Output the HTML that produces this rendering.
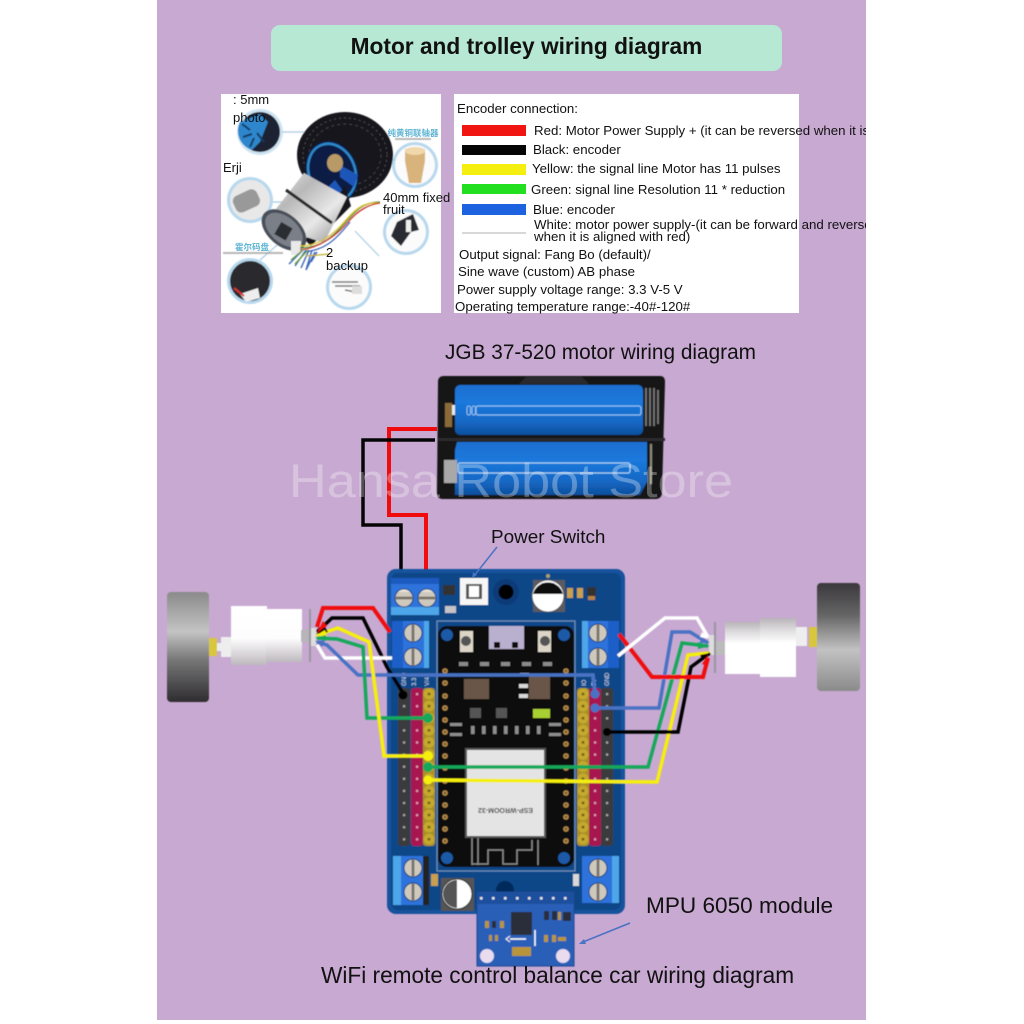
<!DOCTYPE html>
<html><head><meta charset="utf-8"><style>
html,body{margin:0;padding:0;background:#fff;width:1024px;height:1024px;overflow:hidden}
svg{display:block}
text{font-family:"Liberation Sans","Noto Sans CJK SC",sans-serif;fill:#111}
</style></head><body>
<svg width="1024" height="1024" viewBox="0 0 1024 1024" xmlns="http://www.w3.org/2000/svg">
<defs>
<filter id="soft" x="-2%" y="-2%" width="104%" height="104%"><feGaussianBlur stdDeviation="0.45"/></filter>
<linearGradient id="wL" x1="0" y1="0" x2="0" y2="1"><stop offset="0" stop-color="#8a8a8a"/><stop offset=".36" stop-color="#c4c4c4"/><stop offset=".62" stop-color="#777"/><stop offset="1" stop-color="#2e2c30"/></linearGradient>
<linearGradient id="wR" x1="0" y1="0" x2="0" y2="1"><stop offset="0" stop-color="#3a383c"/><stop offset=".3" stop-color="#666"/><stop offset=".62" stop-color="#c2c2c2"/><stop offset="1" stop-color="#8a8a8a"/></linearGradient>
<linearGradient id="mL" x1="0" y1="0" x2="0" y2="1"><stop offset="0" stop-color="#fff"/><stop offset=".55" stop-color="#fdfdfd"/><stop offset=".82" stop-color="#d8d4d8"/><stop offset="1" stop-color="#bdb9be"/></linearGradient>
<linearGradient id="mR" x1="0" y1="0" x2="0" y2="1"><stop offset="0" stop-color="#b8b4b9"/><stop offset=".2" stop-color="#dedcde"/><stop offset=".42" stop-color="#fff"/><stop offset="1" stop-color="#fff"/></linearGradient>
<linearGradient id="bat" x1="0" y1="0" x2="0" y2="1"><stop offset="0" stop-color="#1f6fd0"/><stop offset=".35" stop-color="#1a79dc"/><stop offset=".75" stop-color="#1467c4"/><stop offset="1" stop-color="#0f4f9c"/></linearGradient>
<linearGradient id="cyl" x1="0" y1="0" x2="1" y2="1"><stop offset="0" stop-color="#f0f0f0"/><stop offset=".35" stop-color="#b8b8b8"/><stop offset=".65" stop-color="#e8e8e8"/><stop offset="1" stop-color="#888"/></linearGradient>
<pattern id="pY" width="12" height="12.1" patternUnits="userSpaceOnUse" x="423" y="688"><rect width="12" height="12.1" fill="#a89028"/><circle cx="6" cy="6" r="5.4" fill="#c4a92e"/><rect x="4.7" y="4.8" width="2.6" height="2.4" fill="#6d5c18"/></pattern>
<pattern id="pYR" width="12" height="12.1" patternUnits="userSpaceOnUse" x="577" y="688"><rect width="12" height="12.1" fill="#a89028"/><circle cx="6" cy="6" r="5.4" fill="#c4a92e"/><rect x="4.7" y="4.8" width="2.6" height="2.4" fill="#6d5c18"/></pattern>
<pattern id="pR" width="12" height="12.1" patternUnits="userSpaceOnUse" x="411" y="688"><rect width="12" height="12.1" fill="#a8134f"/><rect x="5" y="5" width="2.2" height="2.2" fill="#d8a0b8"/></pattern>
<pattern id="pRR" width="12" height="12.1" patternUnits="userSpaceOnUse" x="589" y="688"><rect width="12" height="12.1" fill="#a8134f"/><rect x="5" y="5" width="2.2" height="2.2" fill="#d8a0b8"/></pattern>
<pattern id="pK" width="12" height="12.1" patternUnits="userSpaceOnUse" x="398" y="688"><rect width="12" height="12.1" fill="#3a3a3c"/><rect x="5" y="5" width="2.2" height="2.2" fill="#aaa"/></pattern>
<pattern id="pKR" width="12" height="12.1" patternUnits="userSpaceOnUse" x="601" y="688"><rect width="12" height="12.1" fill="#3a3a3c"/><rect x="5" y="5" width="2.2" height="2.2" fill="#aaa"/></pattern>
<g id="screw"><circle r="9.5" fill="#1c3f78"/><circle r="8.5" fill="#cfc9bd"/><rect x="-8.3" y="-1.4" width="16.6" height="2.8" fill="#77736a"/><path d="M-6-6A8.5 8.5 0 0 1 6-6" fill="#e6e2d8"/></g>
<g id="vscrew"><circle r="9.5" fill="#1c3f78"/><circle r="8.5" fill="#cfc9bd"/><rect x="-1.4" y="-8.3" width="2.8" height="16.6" fill="#77736a"/></g>
<g id="pad"><circle r="2.8" fill="#b58a4a"/><circle r="1.1" fill="#5a4020"/></g>
</defs>

<rect width="1024" height="1024" fill="#fff"/>
<rect x="157" y="0" width="709" height="1020" fill="#c8a9d2"/>

<!-- Title -->
<rect x="271" y="25" width="511" height="46" rx="9" fill="#b6e8d3"/>
<text x="526.500" y="54" font-size="22.700" font-weight="700" text-anchor="middle">Motor and trolley wiring diagram</text>

<!-- Left photo -->
<rect x="221" y="94" width="220" height="219" fill="#fff"/>
<g filter="url(#soft)">
 <circle cx="260" cy="132" r="23" fill="#cfe4f2"/><circle cx="260" cy="132" r="20" fill="#1c2430"/><path d="M240 122a20 20 0 0 0 12 28l8-8 8-20-8-8z" fill="#2d86cc"/><path d="M250 130l-8-6M252 134l-9 3M254 138l-4 9M257 133l7 9" stroke="#123a60" stroke-width="2"/>
 <circle cx="250" cy="200" r="23" fill="#b7d8ee"/><circle cx="250" cy="200" r="20" fill="#e8e8e8"/><rect x="233" y="192" width="26" height="18" rx="6" fill="#999" transform="rotate(-25 246 200)"/>
 <circle cx="415" cy="165" r="23" fill="#b7d8ee"/><circle cx="415" cy="165" r="20" fill="#fbfbfb"/><path d="M405 149h20v12l-4 22h-12l-4-22z" fill="#d9b37c"/><ellipse cx="415" cy="151" rx="10" ry="4" fill="#f1d7ac"/>
 <circle cx="406" cy="232" r="23" fill="#b7d8ee"/><circle cx="406" cy="232" r="20" fill="#fbfbfb"/><path d="M397 222l16-8 6 16-8 2-10 14-10-10z" fill="#2c2c30"/><rect x="406" y="220" width="5" height="12" fill="#eee"/>
 <circle cx="250" cy="281" r="23" fill="#b7d8ee"/><circle cx="250" cy="281" r="20" fill="#2a2a2e"/><path d="M240 294l18-6 2 10-14 4z" fill="#eee"/><path d="M234 288l10 8" stroke="#d33" stroke-width="2"/>
 <circle cx="349" cy="287" r="23" fill="#b7d8ee"/><circle cx="349" cy="287" r="20" fill="#fbfbfb"/><path d="M332 282h26M335 286h25M345 290l16 3" stroke="#777" stroke-width="1.600"/><rect x="352" y="286" width="10" height="8" fill="#ddd"/>
 <path d="M282 132H305M273 202H310M355 231l24 25M340 160H395M260 260l32-28" stroke="#a9cbe2" stroke-width="1.200" fill="none"/>
 <!-- tyre -->
 <ellipse cx="345" cy="155" rx="48" ry="43" fill="#17181c"/>
 <ellipse cx="345" cy="155" rx="42" ry="37" fill="none" stroke="#4a4a4e" stroke-width="1" stroke-dasharray="2 3"/>
 <ellipse cx="345" cy="155" rx="36" ry="31" fill="none" stroke="#3f3f44" stroke-width="1" stroke-dasharray="3 3"/>
 <ellipse cx="332" cy="172" rx="26" ry="32" fill="#0c1f44" transform="rotate(-22 332 172)"/>
 <ellipse cx="332" cy="172" rx="23" ry="29" fill="none" stroke="#2f86c9" stroke-width="2.500" transform="rotate(-22 332 172)"/>
 <path d="M340 165l18 10-4 12-14-10zM335 180l10 14-10 4-6-12z" fill="#1d57b8"/>
 <ellipse cx="335" cy="163" rx="8" ry="9" fill="#b79a66"/>
 <!-- bracket -->
 <path d="M345 186l6 20-40 40-6-6z" fill="#18181a"/>
 <!-- motor body -->
 <path d="M304 173L347 197 324 243 265 223Z" fill="url(#cyl)"/>
 <path d="M286 190l46 33" stroke="#2a2a2a" stroke-width="3" fill="none"/>
 <ellipse cx="284" cy="230" rx="26" ry="16" fill="#4a4f58" transform="rotate(40 284 230)"/>
 <ellipse cx="284" cy="230" rx="22" ry="13" fill="#7a7f88" transform="rotate(40 284 230)"/>
 <rect x="277" y="224" width="13" height="14" fill="#2a2d33" transform="rotate(30 283 231)"/>
 <rect x="291" y="241" width="10" height="14" fill="#e9e9e9"/>
 <!-- wires -->
 <path d="M300 248c20 0 32-10 44-24s20-22 36-22" stroke="#3a8a3e" stroke-width="1.300" fill="none"/>
 <path d="M300 246c20 0 34-12 46-26s20-18 34-17" stroke="#d9c22a" stroke-width="1.300" fill="none"/>
 <path d="M300 250c20-2 38-16 48-28s22-18 32-19" stroke="#c9342c" stroke-width="1.300" fill="none"/>
 <path d="M304 252c20-2 30-10 46-30" stroke="#3c66b8" stroke-width="1.300" fill="none"/>
 <path d="M303 250l-14 14M306 250l-11 16M309 250l-8 18M312 250l-6 20M315 252l-9 18M317 252l-6 10" stroke-width="1.400" fill="none" stroke="#3c66b8"/>
 <path d="M303 250l-12 10M308 250l-13 14" stroke="#6aa03a" stroke-width="1.400"/>
 <path d="M306 256l24-2" stroke="#c5b030" stroke-width="1.300"/>
 <rect x="395" y="138" width="36" height="2" fill="#999" opacity=".7"/>
 <rect x="223" y="252" width="60" height="2" fill="#999" opacity=".7"/>
</g>
<text x="413" y="136" font-size="8.500" font-weight="700" text-anchor="middle" style="fill:#5fb4d4">纯黄铜联轴器</text>
<text x="252" y="250" font-size="8.500" font-weight="700" text-anchor="middle" style="fill:#5fb4d4">霍尔码盘</text>
<g font-size="13">
<text x="233" y="104">: 5mm</text>
<text x="233" y="122">photo</text>
<text x="223" y="172">Erji</text>
<text x="383" y="202">40mm fixed</text>
<text x="383" y="214">fruit</text>
<text x="326" y="257">2</text>
<text x="326" y="270">backup</text>
</g>

<!-- Right text panel -->
<rect x="454" y="94" width="345" height="219" fill="#fff"/>
<rect x="462" y="125" width="64" height="11" fill="#f01510"/>
<rect x="462" y="145" width="64" height="10" fill="#050505"/>
<rect x="462" y="164" width="64" height="11" fill="#f5ef10"/>
<rect x="462" y="184" width="64" height="10" fill="#22e020"/>
<rect x="462" y="204" width="64" height="11" fill="#1d63df"/>
<rect x="462" y="232" width="64" height="2" fill="#d8d8d8"/>
<g font-size="13.270">
<text x="457" y="113">Encoder connection:</text>
<text x="534" y="135">Red: Motor Power Supply + (it can be reversed when it is</text>
<text x="533" y="154">Black: encoder</text>
<text x="532" y="173">Yellow: the signal line Motor has 11 pulses</text>
<text x="531" y="194">Green: signal line Resolution 11 * reduction</text>
<text x="533" y="214">Blue: encoder</text>
<text x="534" y="229">White: motor power supply-(it can be forward and reverse</text>
<text x="534" y="241">when it is aligned with red)</text>
<text x="459" y="259">Output signal: Fang Bo (default)/</text>
<text x="458" y="276">Sine wave (custom) AB phase</text>
<text x="457" y="294">Power supply voltage range: 3.3 V-5 V</text>
<text x="455" y="311">Operating temperature range:-40#-120#</text>
</g>

<text x="600.500" y="359" font-size="20.800" text-anchor="middle">JGB 37-520 motor wiring diagram</text>

<!-- Battery holder -->
<g filter="url(#soft)">
<path d="M444 376H660Q665 376 665 382L662 492Q662 499 655 499H443Q437 499 437 493L438 382Q438 376 444 376Z" fill="#141416"/>
<path d="M526 377h56l7 7h-70z" fill="#2a2a2e"/>
<rect x="455" y="385" width="188" height="50" rx="5" fill="url(#bat)"/>
<path d="M457 442H647V482L640 495H455V450Z" fill="url(#bat)"/>
<rect x="438" y="438" width="227" height="3" fill="#2a2a2e"/>
<rect x="476" y="406" width="165" height="9" rx="2" fill="none" stroke="#8fc0f0" stroke-width="1.200"/>
<g fill="none" stroke="#8fc0f0" stroke-width="1"><rect x="467" y="406" width="3.500" height="9" rx="1.700"/><rect x="472" y="406" width="3.500" height="9" rx="1.700"/></g>
<rect x="458" y="463" width="172" height="10" rx="2" fill="none" stroke="#a8d0f2" stroke-width="1.200"/>
<rect x="445" y="403" width="7" height="24" fill="#8a6a38"/><rect x="452" y="405" width="3" height="10" fill="#e8e8e8"/>
<rect x="444" y="460" width="13" height="23" fill="#a8a8a8"/>
<path d="M646 388v38M650 388v38M654 388v38M658 390v34" stroke="#777" stroke-width="1.800"/>
<rect x="650" y="444" width="2" height="40" fill="#8a8a7a"/>
</g>

<!-- Battery wires -->
<path d="M437 429H389V515H426V578" fill="none" stroke="#f00c0c" stroke-width="4"/>
<path d="M435 440H363V525H401V578" fill="none" stroke="#050505" stroke-width="3.500"/>

<!-- Watermark -->
<text x="289" y="497" font-size="47" textLength="444" lengthAdjust="spacingAndGlyphs" opacity=".3" style="fill:#fff">Hansa Robot Store</text>

<g filter="url(#soft)">
<!-- Left motor -->
<rect x="167" y="592" width="42" height="110" rx="4" fill="url(#wL)"/>
<rect x="209" y="638" width="8" height="18" fill="#d8c63c"/>
<rect x="217" y="643" width="5" height="8" fill="#eee"/>
<rect x="221" y="637" width="11" height="20" fill="#eee"/>
<rect x="231" y="606" width="36" height="59" fill="url(#mL)"/>
<rect x="266" y="609" width="36" height="53" fill="url(#mL)"/>
<rect x="301" y="630" width="9" height="12" fill="#b8b4ba"/>
<rect x="309" y="609" width="2" height="53" fill="#99959c"/>
<rect x="311" y="628" width="5" height="18" fill="#ddd"/>

<!-- Right motor -->
<rect x="817" y="583" width="43" height="108" rx="4" fill="url(#wR)"/>
<rect x="809" y="627" width="8" height="20" fill="#d8c63c"/>
<rect x="796" y="627" width="11" height="19" fill="#eee"/>
<rect x="725" y="622" width="36" height="52" fill="url(#mR)"/>
<rect x="760" y="618" width="36" height="59" fill="url(#mR)"/>
<rect x="716" y="641" width="9" height="14" fill="#bbb"/>
<rect x="714" y="622" width="2" height="51" fill="#99959c"/>
<rect x="709" y="635" width="5" height="20" fill="#ddd"/>

<!-- Board -->
<rect x="387" y="569" width="238" height="345" rx="9" fill="#17529c"/>
<rect x="391" y="573" width="230" height="337" rx="7" fill="#0d4688"/>

<!-- top terminal -->
<rect x="391" y="578" width="48" height="37" fill="#2e72dc"/>
<rect x="391" y="578" width="48" height="6" fill="#1f5ac0"/>
<rect x="391" y="607" width="48" height="8" fill="#4ea6ea"/>
<use href="#screw" x="404" y="598"/><use href="#screw" x="427" y="598"/>
<!-- jumper -->
<rect x="443" y="585" width="12" height="10" fill="#333"/><rect x="445" y="606" width="11" height="7" fill="#c4c4c8"/>
<!-- switch -->
<rect x="460" y="578" width="28" height="27" fill="#f6f6f6"/>
<rect x="466" y="584" width="16" height="15" fill="#555"/>
<rect x="469" y="586" width="10" height="11" fill="#fff"/>
<!-- hole -->
<circle cx="506" cy="592" r="13" fill="#0a3a78"/><circle cx="506" cy="592" r="7.500" fill="#050505"/>
<!-- capacitor -->
<rect x="533" y="580" width="32" height="32" fill="#5a5a60"/>
<circle cx="548" cy="596" r="16" fill="#fff" stroke="#555"/>
<path d="M533 594A15.500 15.500 0 0 1 563 594Z" fill="#111"/>
<circle cx="548" cy="576" r="2" fill="#a8a06a"/>
<g fill="#c8a050"><rect x="567" y="588" width="6" height="10"/><rect x="577" y="588" width="6" height="10"/></g>
<rect x="587" y="587" width="9" height="9" fill="#333"/><rect x="588" y="596" width="7" height="4" fill="#b68040"/>

<!-- left terminal -->
<rect x="392" y="621" width="37" height="47" fill="#2e72dc"/>
<rect x="392" y="621" width="11" height="47" fill="#1f5ec8"/>
<rect x="424" y="621" width="5" height="47" fill="#4ea6ea"/>
<use href="#vscrew" x="413" y="633"/><use href="#vscrew" x="413" y="657"/>
<!-- right terminal -->
<rect x="582" y="621" width="37" height="47" fill="#2e72dc"/>
<rect x="582" y="621" width="6" height="47" fill="#4ea6ea"/>
<rect x="608" y="621" width="11" height="47" fill="#1f5ec8"/>
<use href="#vscrew" x="598" y="633"/><use href="#vscrew" x="598" y="657"/>

<!-- outline and ESP board -->
<rect x="437" y="621" width="138" height="250" fill="none" stroke="#6f90b8" stroke-width="1.200"/>
<rect x="438" y="626" width="136" height="241" rx="9" fill="#070709"/>
<circle cx="447" cy="635" r="6" fill="#1c5aa8"/><circle cx="564" cy="635" r="6" fill="#1c5aa8"/>
<circle cx="447" cy="858" r="6" fill="#1c5aa8"/><circle cx="564" cy="858" r="6" fill="#1c5aa8"/>
<rect x="489" y="626" width="35" height="23" fill="#b9b0d0"/>
<rect x="494" y="642" width="6" height="6" fill="#111"/><rect x="512" y="642" width="6" height="6" fill="#111"/>
<rect x="460" y="631" width="13" height="21" fill="#ddd6c8"/><circle cx="466" cy="641" r="5" fill="#555"/>
<rect x="538" y="631" width="13" height="21" fill="#ddd6c8"/><circle cx="545" cy="641" r="5" fill="#555"/>
<g fill="#8a8a8a"><rect x="459" y="662" width="9" height="4"/><rect x="480" y="662" width="9" height="4"/><rect x="501" y="662" width="9" height="4"/><rect x="522" y="662" width="9" height="4"/><rect x="543" y="662" width="9" height="4"/></g>
<rect x="464" y="679" width="25" height="20" fill="#6b5648"/>
<rect x="529" y="675" width="21" height="24" fill="#6b5648"/>
<g fill="#d8d8d8"><rect x="519" y="684" width="9" height="4"/><rect x="519" y="694" width="9" height="4"/><rect x="520" y="673" width="9" height="3"/></g>
<rect x="533" y="709" width="17" height="9" fill="#a8d030"/>
<rect x="470" y="708" width="11" height="10" fill="#555"/><rect x="496" y="708" width="11" height="10" fill="#555"/>
<g fill="#8e8e8e"><rect x="450" y="723" width="12" height="3"/><rect x="450" y="733" width="12" height="3"/><rect x="549" y="723" width="12" height="3"/><rect x="549" y="733" width="12" height="3"/>
<rect x="471" y="726" width="3.500" height="8"/><rect x="482" y="726" width="3.500" height="8"/><rect x="493" y="726" width="3.500" height="8"/><rect x="504" y="726" width="3.500" height="8"/><rect x="515" y="726" width="3.500" height="8"/><rect x="526" y="726" width="3.500" height="8"/><rect x="537" y="726" width="3.500" height="8"/></g>
<!-- gold pads -->
<g>
<use href="#pad" x="445" y="671"/><use href="#pad" x="445" y="683"/><use href="#pad" x="445" y="696"/><use href="#pad" x="445" y="708"/><use href="#pad" x="445" y="720"/><use href="#pad" x="445" y="732"/><use href="#pad" x="445" y="744"/><use href="#pad" x="445" y="756"/><use href="#pad" x="445" y="768"/><use href="#pad" x="445" y="781"/><use href="#pad" x="445" y="793"/><use href="#pad" x="445" y="805"/><use href="#pad" x="445" y="817"/><use href="#pad" x="445" y="829"/><use href="#pad" x="445" y="841"/>
<use href="#pad" x="566" y="671"/><use href="#pad" x="566" y="683"/><use href="#pad" x="566" y="696"/><use href="#pad" x="566" y="708"/><use href="#pad" x="566" y="720"/><use href="#pad" x="566" y="732"/><use href="#pad" x="566" y="744"/><use href="#pad" x="566" y="756"/><use href="#pad" x="566" y="768"/><use href="#pad" x="566" y="781"/><use href="#pad" x="566" y="793"/><use href="#pad" x="566" y="805"/><use href="#pad" x="566" y="817"/><use href="#pad" x="566" y="829"/><use href="#pad" x="566" y="841"/>
</g>
<!-- module -->
<rect x="465" y="748" width="81" height="90" fill="#555"/>
<rect x="467" y="750" width="77" height="86" fill="#e4e4e4"/>
<text transform="translate(505.500 808) rotate(180)" font-size="7.500" font-weight="700" text-anchor="middle" textLength="55" lengthAdjust="spacingAndGlyphs" style="fill:#444">ESP-WROOM-32</text>
<path d="M472 865V838M478 865V838M472 864H488V850H503V864H517V850H532V840M538 840V865" fill="none" stroke="#8c8c8c" stroke-width="1.500"/>

<!-- headers -->
<rect x="398" y="688" width="12" height="158" rx="3" fill="url(#pK)"/>
<rect x="411" y="688" width="12" height="158" rx="3" fill="url(#pR)"/>
<rect x="423" y="688" width="12" height="158" rx="3" fill="url(#pY)"/>
<rect x="577" y="688" width="12" height="158" rx="3" fill="url(#pYR)"/>
<rect x="589" y="688" width="12" height="158" rx="3" fill="url(#pRR)"/>
<rect x="601" y="688" width="12" height="158" rx="3" fill="url(#pKR)"/>
<g font-size="6">
<text transform="translate(406 686) rotate(-90)" style="fill:#cfdcf0">GND</text>
<text transform="translate(416 686) rotate(-90)" style="fill:#cfdcf0">3.3</text>
<text transform="translate(429 686) rotate(-90)" style="fill:#cfdcf0">V/4</text>
<text transform="translate(586 686) rotate(-90)" style="fill:#cfdcf0">IO</text>
<text transform="translate(596 686) rotate(-90)" style="fill:#cfdcf0">5V</text>
<text transform="translate(609 686) rotate(-90)" style="fill:#cfdcf0">GND</text>
</g>

<!-- bottom terminals -->
<rect x="393" y="856" width="30" height="49" fill="#2e72dc"/>
<rect x="393" y="856" width="8" height="49" fill="#4ea6ea"/>
<rect x="423" y="856" width="6" height="49" fill="#222"/>
<use href="#vscrew" x="413" y="868"/><use href="#vscrew" x="413" y="892"/>
<rect x="582" y="856" width="37" height="47" fill="#2e72dc"/>
<rect x="612" y="856" width="7" height="47" fill="#4ea6ea"/>
<use href="#vscrew" x="598" y="868"/><use href="#vscrew" x="598" y="892"/>
<rect x="431" y="874" width="7" height="12" fill="#c8a050"/>
<rect x="573" y="874" width="6" height="12" fill="#d8d8d8"/>
<!-- bottom capacitor -->
<rect x="441" y="878" width="33" height="33" fill="#555"/>
<circle cx="457" cy="894" r="15" fill="#fff" stroke="#222"/>
<path d="M457 880A14 14 0 0 0 457 908Z" fill="#555"/>
<circle cx="505" cy="890" r="9" fill="#062a5c"/>

<!-- MPU -->
<rect x="477" y="892" width="97" height="74" fill="#2a5fb8" stroke="#1c4690"/>
<rect x="477" y="892" width="97" height="12" fill="#1f4f9e"/>
<g fill="#e6e6e6"><rect x="480" y="897" width="2.500" height="2.500"/><rect x="492" y="897" width="2.500" height="2.500"/><rect x="504" y="897" width="2.500" height="2.500"/><rect x="516" y="897" width="2.500" height="2.500"/><rect x="528" y="897" width="2.500" height="2.500"/><rect x="540" y="897" width="2.500" height="2.500"/><rect x="552" y="897" width="2.500" height="2.500"/><rect x="564" y="897" width="2.500" height="2.500"/></g>
<circle cx="487" cy="956" r="7" fill="#e8dcee"/><circle cx="563" cy="956" r="7" fill="#e8dcee"/>
<rect x="511" y="912" width="21" height="23" fill="#2a2f3a"/>
<rect x="512" y="947" width="19" height="9" fill="#b8953a"/>
<g fill="#b8953a"><rect x="485" y="921" width="4" height="7"/><rect x="500" y="921" width="4" height="7"/><rect x="489" y="935" width="3" height="6"/><rect x="495" y="935" width="3" height="6"/><rect x="544" y="935" width="4" height="7"/><rect x="552" y="935" width="4" height="7"/><rect x="558" y="937" width="8" height="4"/><rect x="558" y="912" width="3" height="8"/></g>
<g fill="#2a2f3a"><rect x="492" y="921" width="4" height="7"/><rect x="544" y="911" width="5" height="9"/><rect x="552" y="911" width="5" height="9"/><rect x="563" y="912" width="8" height="9"/></g>
<path d="M510 939h16M535 930v16" stroke="#fff" stroke-width="1.500" fill="none"/>
<path d="M510 936l-4 3 4 3" stroke="#fff" fill="none"/>

<!-- Wires -->
<g fill="none" stroke-linejoin="miter">
<path d="M390 632L373 608H323L317 627" stroke="#f00c0c" stroke-width="4"/>
<path d="M403 693L387 667L363 618H332L317 632" stroke="#050505" stroke-width="3.500"/>
<path d="M392 658H325L317 645" stroke="#fff" stroke-width="3.500"/>
<path d="M460 675H358L327 645L317 642M460 675H593L595 693" stroke="#4a72c4" stroke-width="3.500"/>
<path d="M428 718H367L363 647L337 639L317 638" stroke="#13a85a" stroke-width="3.500"/>
<path d="M428 756H384L369 642L338 628L317 635" stroke="#f5ef10" stroke-width="3.500"/>
<path d="M428 767H648L682 643L708 646" stroke="#13a85a" stroke-width="3.500"/>
<path d="M428 780L657 782L688 655L710 653" stroke="#f5ef10" stroke-width="3.500"/>
<path d="M595 708H659L672 632H690L708 643" stroke="#4a72c4" stroke-width="3.500"/>
<path d="M607 732H678L691 667L710 653" stroke="#050505" stroke-width="3.500"/>
<path d="M619 634L652 677H703L708 658" stroke="#f00c0c" stroke-width="4"/>
<path d="M618 656L665 618H697L708 637" stroke="#fff" stroke-width="3.500"/>
</g>
<!-- arrowheads -->
<g>
<path d="M317 633l6-12 4 5z" fill="#f00c0c"/>
<path d="M316 634l9-7 3 5z" fill="#050505"/>
<path d="M315 636l10-6 2 6z" fill="#f5ef10"/>
<path d="M315 638l11-3v6z" fill="#13a85a"/>
<path d="M315 641l10-1-3 7z" fill="#4a72c4"/>
<path d="M710 639l-8-7-2 5z" fill="#fff"/>
<path d="M710 643l-9-5-1 5z" fill="#4a72c4"/>
<path d="M710 646l-12-4v7z" fill="#13a85a"/>
<path d="M710 652l-11 0 3 5z" fill="#f5ef10"/>
<path d="M710 653l-10 2 3 5z" fill="#050505"/>
<path d="M708 655l-6 9 5 2z" fill="#f00c0c"/>
</g>
<!-- Dots -->
<circle cx="403" cy="695" r="4.500" fill="#050505"/>
<circle cx="428" cy="718" r="5" fill="#13a85a"/>
<circle cx="428" cy="756" r="5" fill="#f5ef10"/>
<circle cx="428" cy="767" r="5" fill="#13a85a"/>
<circle cx="428" cy="780" r="4.500" fill="#f5ef10"/>
<circle cx="595" cy="694" r="4.500" fill="#4a72c4"/>
<circle cx="595" cy="708" r="4.500" fill="#4a72c4"/>
<circle cx="607" cy="732" r="4" fill="#050505"/>
</g>

<!-- Labels -->
<text x="491" y="543" font-size="18.900">Power Switch</text>
<path d="M497 547L474 576" stroke="#4a72c4" stroke-width="1.500" fill="none"/>
<path d="M472 578l1-6 4 3z" fill="#4a72c4"/>
<text x="646" y="913" font-size="22.600">MPU 6050 module</text>
<path d="M630 923L583 942" stroke="#4a72c4" stroke-width="1.500" fill="none"/>
<path d="M579 944l5-5 2 5z" fill="#4a72c4"/>
<text x="321" y="983" font-size="22.650">WiFi remote control balance car wiring diagram</text>

<!-- page crop -->
<rect x="866" y="0" width="158" height="1024" fill="#fff"/>
<rect x="0" y="1020" width="1024" height="4" fill="#fff"/>
</svg>
</body></html>
